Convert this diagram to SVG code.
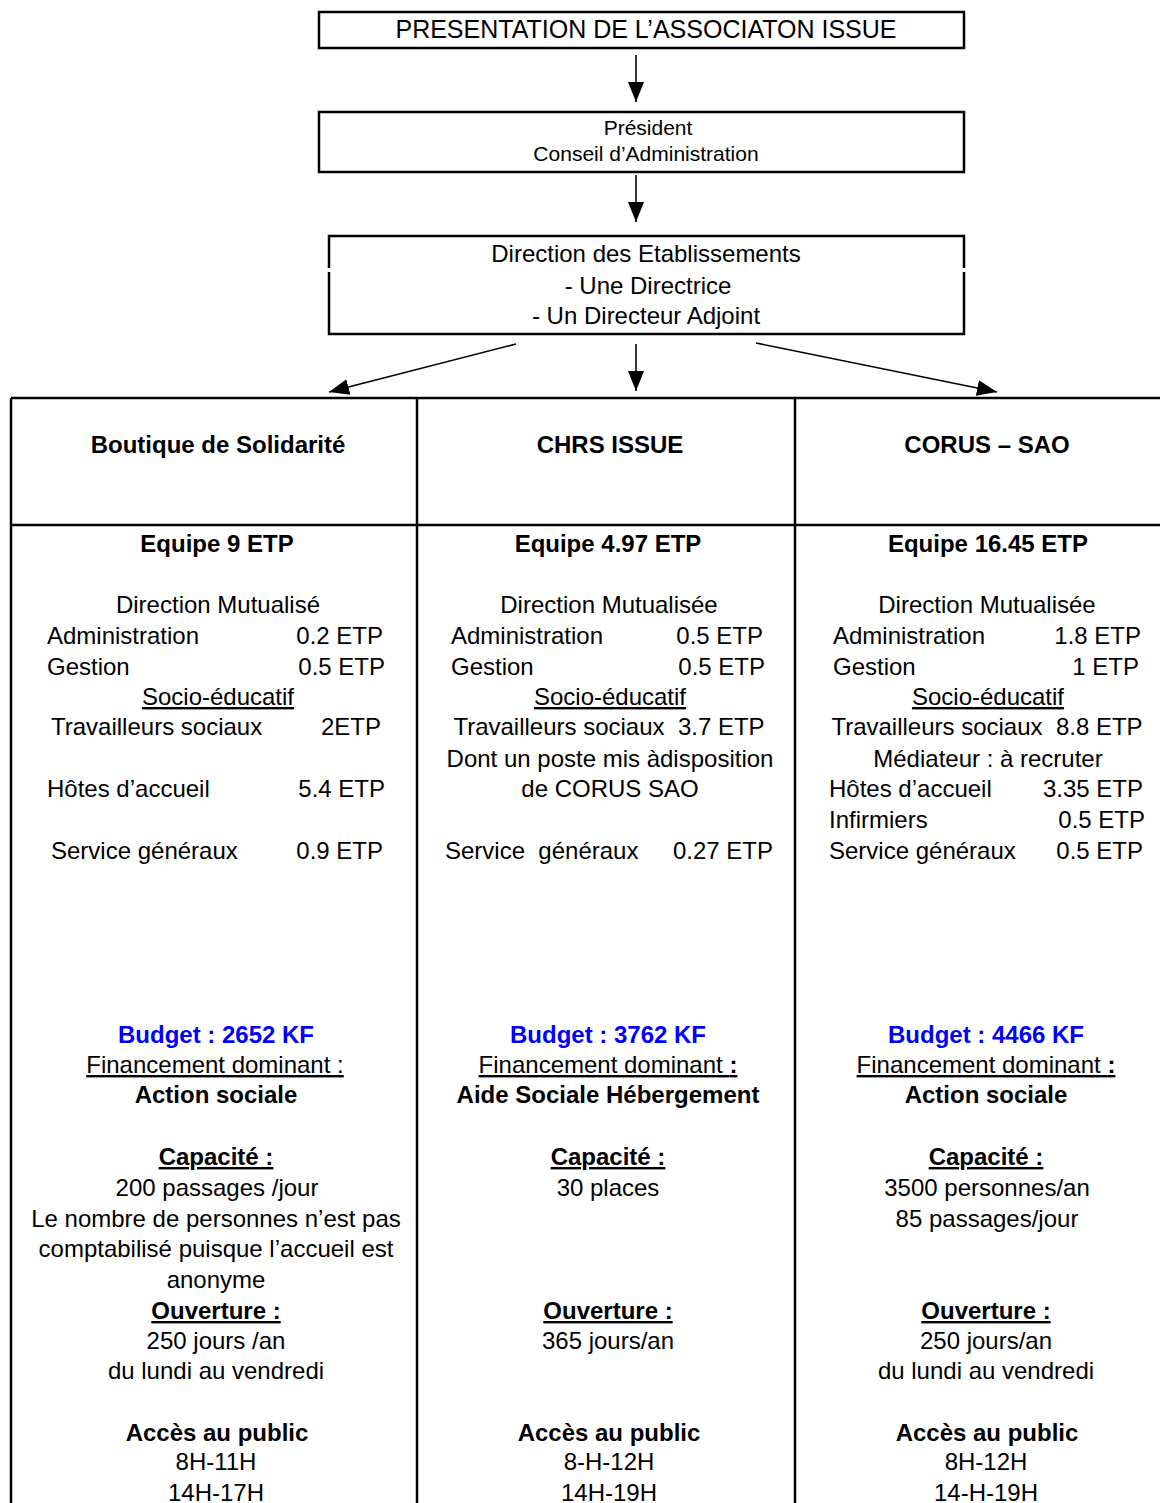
<svg xmlns="http://www.w3.org/2000/svg" width="1160" height="1503" viewBox="0 0 1160 1503">
<style>
text{font-family:"Liberation Sans",Arial,sans-serif;font-size:24px;fill:#000}
.c{text-anchor:middle}
.e{text-anchor:end}
.b{font-weight:bold}
.u{text-decoration:underline}
.blue{fill:#0000ff;font-weight:bold}
.box{fill:#fff;stroke:#000;stroke-width:2.5}
.tl{stroke:#000;stroke-width:2.5;fill:none}
.conn{stroke:#000;stroke-width:1.6;fill:none}
</style>
<defs>
<marker id="ah" viewBox="0 0 20 16" refX="20" refY="8" markerWidth="20" markerHeight="16" markerUnits="userSpaceOnUse" orient="auto">
<path d="M0,0 L20,8 L0,16 Z" fill="#000"/>
</marker>
</defs>
<rect width="1160" height="1503" fill="#fff"/>

<g id="node-title">
<rect class="box" x="319" y="12" width="645" height="36"/>
<text class="c" x="646" y="38" style="font-size:25px">PRESENTATION DE L’ASSOCIATON ISSUE</text>
</g>

<g id="node-president">
<rect class="box" x="319" y="112" width="645" height="60"/>
<text class="c" x="648" y="135" style="font-size:21px">Président</text>
<text class="c" x="646" y="161" style="font-size:21px">Conseil d’Administration</text>
</g>

<g id="node-direction">
<rect x="329" y="236" width="635" height="98" fill="#fff"/>
<path class="tl" d="M329,268 V236 H964 V268 M964,272 V334 H329 V272"/>
<text class="c" x="646" y="262">Direction des Etablissements</text>
<text class="c" x="648" y="294">- Une Directrice</text>
<text class="c" x="646" y="324">- Un Directeur Adjoint</text>
</g>

<g id="connectors">
<line class="conn" x1="636" y1="55" x2="636" y2="102" marker-end="url(#ah)"/>
<line class="conn" x1="636" y1="175" x2="636" y2="222" marker-end="url(#ah)"/>
<line class="conn" x1="516" y1="344" x2="329" y2="392" marker-end="url(#ah)"/>
<line class="conn" x1="636" y1="344" x2="636" y2="391" marker-end="url(#ah)"/>
<line class="conn" x1="756" y1="343" x2="997" y2="392" marker-end="url(#ah)"/>
</g>

<g id="table-grid">
<path class="tl" d="M11,398 H1160 M11,525 H1160 M11,398 V1503 M417,398 V1503 M795,398 V1503"/>
</g>

<g id="col-boutique">
<text class="c b" x="218" y="453">Boutique de Solidarité</text>
<text class="c b" x="217" y="552">Equipe 9 ETP</text>
<text class="c" x="218" y="613">Direction Mutualisé</text>
<text x="47" y="644">Administration</text><text class="e" x="383" y="644">0.2 ETP</text>
<text x="47" y="675">Gestion</text><text class="e" x="385" y="675">0.5 ETP</text>
<text class="c u" x="218" y="705">Socio-éducatif</text>
<text x="51" y="735">Travailleurs sociaux</text><text class="e" x="381" y="735">2ETP</text>
<text x="47" y="797">Hôtes d’accueil</text><text class="e" x="385" y="797">5.4 ETP</text>
<text x="51" y="859">Service généraux</text><text class="e" x="383" y="859">0.9 ETP</text>
<text class="c blue" x="216" y="1043">Budget : 2652 KF</text>
<text class="c u" x="215" y="1073">Financement dominant :</text>
<text class="c b" x="216" y="1103">Action sociale</text>
<text class="c b u" x="216" y="1165">Capacité :</text>
<text class="c" x="217" y="1196">200 passages /jour</text>
<text class="c" x="216" y="1227">Le nombre de personnes n’est pas</text>
<text class="c" x="216" y="1257">comptabilisé puisque l’accueil est</text>
<text class="c" x="216" y="1288">anonyme</text>
<text class="c b u" x="216" y="1319">Ouverture :</text>
<text class="c" x="216" y="1349">250 jours /an</text>
<text class="c" x="216" y="1379">du lundi au vendredi</text>
<text class="c b" x="217" y="1441">Accès au public</text>
<text class="c" x="216" y="1470">8H-11H</text>
<text class="c" x="216" y="1501">14H-17H</text>
</g>

<g id="col-chrs">
<text class="c b" x="610" y="453">CHRS ISSUE</text>
<text class="c b" x="608" y="552">Equipe 4.97 ETP</text>
<text class="c" x="609" y="613">Direction Mutualisée</text>
<text x="451" y="644">Administration</text><text class="e" x="763" y="644">0.5 ETP</text>
<text x="451" y="675">Gestion</text><text class="e" x="765" y="675">0.5 ETP</text>
<text class="c u" x="610" y="705">Socio-éducatif</text>
<text class="c" x="609" y="735" xml:space="preserve">Travailleurs sociaux  3.7 ETP</text>
<text class="c" x="610" y="767">Dont un poste mis àdisposition</text>
<text class="c" x="610" y="797">de CORUS SAO</text>
<text x="445" y="859" xml:space="preserve">Service  généraux</text><text class="e" x="773" y="859">0.27 ETP</text>
<text class="c blue" x="608" y="1043">Budget : 3762 KF</text>
<text class="c" x="608" y="1073"><tspan class="u">Financement dominant </tspan><tspan class="b u">:</tspan></text>
<text class="c b" x="608" y="1103">Aide Sociale Hébergement</text>
<text class="c b u" x="608" y="1165">Capacité :</text>
<text class="c" x="608" y="1196">30 places</text>
<text class="c b u" x="608" y="1319">Ouverture :</text>
<text class="c" x="608" y="1349">365 jours/an</text>
<text class="c b" x="609" y="1441">Accès au public</text>
<text class="c" x="609" y="1470">8-H-12H</text>
<text class="c" x="609" y="1501">14H-19H</text>
</g>

<g id="col-corus">
<text class="c b" x="987" y="453">CORUS – SAO</text>
<text class="c b" x="988" y="552">Equipe 16.45 ETP</text>
<text class="c" x="987" y="613">Direction Mutualisée</text>
<text x="833" y="644">Administration</text><text class="e" x="1141" y="644">1.8 ETP</text>
<text x="833" y="675">Gestion</text><text class="e" x="1139" y="675">1 ETP</text>
<text class="c u" x="988" y="705">Socio-éducatif</text>
<text class="c" x="987" y="735" xml:space="preserve">Travailleurs sociaux  8.8 ETP</text>
<text class="c" x="988" y="767">Médiateur : à recruter</text>
<text x="829" y="797">Hôtes d’accueil</text><text class="e" x="1143" y="797">3.35 ETP</text>
<text x="829" y="828">Infirmiers</text><text class="e" x="1145" y="828">0.5 ETP</text>
<text x="829" y="859">Service généraux</text><text class="e" x="1143" y="859">0.5 ETP</text>
<text class="c blue" x="986" y="1043">Budget : 4466 KF</text>
<text class="c" x="986" y="1073"><tspan class="u">Financement dominant </tspan><tspan class="b u">:</tspan></text>
<text class="c b" x="986" y="1103">Action sociale</text>
<text class="c b u" x="986" y="1165">Capacité :</text>
<text class="c" x="987" y="1196">3500 personnes/an</text>
<text class="c" x="987" y="1227">85 passages/jour</text>
<text class="c b u" x="986" y="1319">Ouverture :</text>
<text class="c" x="986" y="1349">250 jours/an</text>
<text class="c" x="986" y="1379">du lundi au vendredi</text>
<text class="c b" x="987" y="1441">Accès au public</text>
<text class="c" x="986" y="1470">8H-12H</text>
<text class="c" x="986" y="1501">14-H-19H</text>
</g>
</svg>
